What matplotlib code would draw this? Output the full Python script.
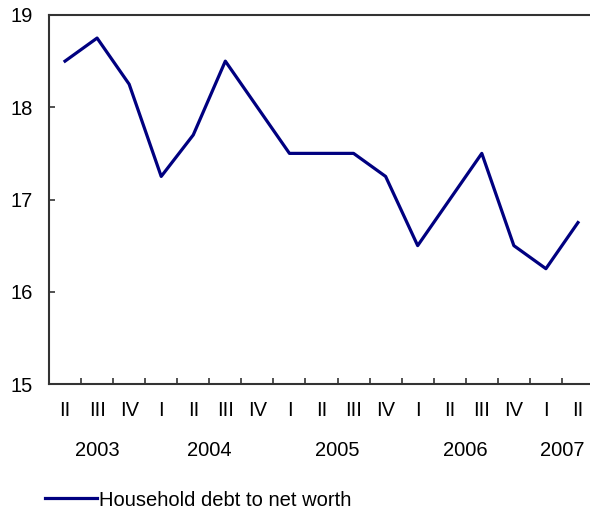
import matplotlib
matplotlib.use("Agg")
import matplotlib.pyplot as plt
import matplotlib.transforms as mtransforms
import numpy as np

plt.rcParams['font.family'] = ['Liberation Sans', 'DejaVu Sans']

quarters = ['II', 'III', 'IV', 'I', 'II', 'III', 'IV', 'I', 'II', 'III', 'IV',
            'I', 'II', 'III', 'IV', 'I', 'II']
years = [2003, 2003, 2003, 2004, 2004, 2004, 2004, 2005, 2005, 2005, 2005,
         2006, 2006, 2006, 2006, 2007, 2007]
debt_to_worth = [18.5, 18.75, 18.25, 17.25, 17.7, 18.5, 18.0, 17.5, 17.5, 17.5,
                 17.25, 16.5, 17.0, 17.5, 16.5, 16.25, 16.75]

fs = 14.5

fig = plt.figure(figsize=(5.9, 5.12), dpi=100)
ax = fig.add_axes([49/590, 1 - 384/512, 545/590, 369/512])

x = np.arange(len(quarters))
ax.plot(x, debt_to_worth, color='#000080', linewidth=2.3,
        label='Household debt to net worth')

ax.set_xlim(-0.5, len(quarters) - 0.5)
ax.set_ylim(15, 19)
ax.set_yticks([15, 16, 17, 18, 19])
ax.set_yticklabels(['15', '16', '17', '18', '19'], fontsize=fs)

# category ticks sit between quarters, labels at centres
ax.set_xticks(np.arange(len(quarters) + 1) - 0.5)
ax.set_xticklabels([])
ax.set_xticks(x, minor=True)
ax.set_xticklabels(quarters, minor=True, fontsize=fs)
ax.tick_params(axis='x', which='major', direction='in', length=4, width=1.2, color='#333333')
ax.tick_params(axis='x', which='minor', length=0, pad=12.5)
ax.tick_params(axis='y', direction='in', length=4, width=1.2, color='#333333', pad=11.5)

for s in ['left', 'bottom', 'top']:
    ax.spines[s].set_linewidth(1.5)
    ax.spines[s].set_color('#333333')
ax.spines['right'].set_visible(False)

trans = mtransforms.blended_transform_factory(ax.transData, ax.transAxes)
for yr in sorted(set(years)):
    idx = [i for i, y in enumerate(years) if y == yr]
    ax.text(np.mean(idx), -0.179, str(yr), transform=trans, ha='center',
            va='center', fontsize=fs)

fig.legend(loc='center left', bbox_to_anchor=(45/590, 1 - 500/512),
           frameon=False, fontsize=fs, handlelength=2.6, handletextpad=0.1,
           borderpad=0, borderaxespad=0)

fig.savefig('out.png', dpi=100)
